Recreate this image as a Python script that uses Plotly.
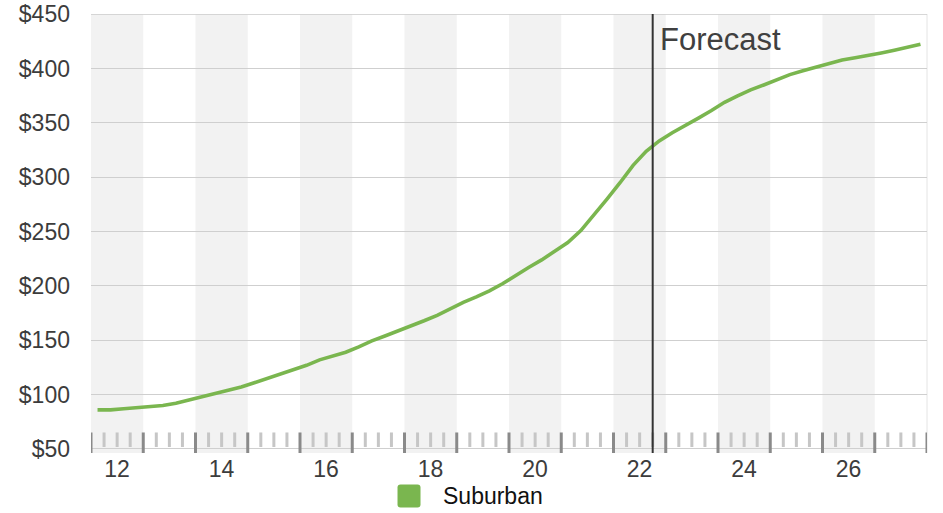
import plotly.graph_objects as go

# ---- data ----
years = list(range(12, 28))            # two-digit years shown on the axis
quarters = [1, 2, 3, 4]
series_name = "Suburban"
suburban = [
    86, 86, 87, 88,          # 12
    89, 90, 92, 95,          # 13
    97.5, 101, 104, 107,     # 14
    111, 115, 119, 122.5,    # 15
    127, 132, 135.5, 139,    # 16
    144, 149.5, 154, 158.5,  # 17
    163.5, 168, 173, 179,    # 18
    185, 190, 195.5, 202,    # 19
    210, 217, 224, 232,      # 20
    240, 251, 265, 280,      # 21
    295, 311, 324, 333.5,    # 22
    341, 347.5, 354.5, 361.5,# 23
    369, 375, 380.5, 385,    # 24
    390, 394.5, 398, 401.5,  # 25
    404.5, 408, 410, 412,    # 26
    414.5, 417, 419.5, 422.5 # 27
]
y_ticks = [50, 100, 150, 200, 250, 300, 350, 400, 450]
x_label_years = [12, 14, 16, 18, 20, 22, 24, 26]
forecast_start = 22.25
forecast_label = "Forecast"

# x position of each quarter (centre of the quarter within the year band)
x_vals = [yr - 0.5 + (q - 0.5) / 4 for yr in years for q in quarters]

GREEN = "#7ab64f"
TEXT = "#3c3c3c"
FONT = "Liberation Sans, Arial, Helvetica, sans-serif"

fig = go.Figure()
fig.add_trace(go.Scatter(
    x=x_vals, y=suburban, mode="lines", name=series_name,
    line=dict(color=GREEN, width=3.6), showlegend=False,
    hoverinfo="x+y",
))

shapes = []
# alternating year bands
for yr in years:
    if yr % 2 == 0:
        shapes.append(dict(type="rect", xref="x", yref="paper",
                           x0=yr - 0.5, x1=yr + 0.5, y0=0, y1=1,
                           fillcolor="#f2f2f2", line=dict(width=0), layer="below"))
# right edge line
shapes.append(dict(type="line", xref="paper", yref="paper", x0=1, x1=1, y0=0, y1=1,
                   line=dict(color="#e4e4e4", width=1), layer="below"))
# top gridline (edge of plot)
shapes.append(dict(type="line", xref="paper", yref="y", x0=0, x1=1,
                   y0=y_ticks[-1], y1=y_ticks[-1],
                   line=dict(color="#cfcfcf", width=1), layer="below"))
# major ticks at year boundaries
bounds = [years[0] - 0.5] + [yr + 0.5 for yr in years]
for b in bounds:
    shapes.append(dict(type="line", xref="x", yref="y", ysizemode="pixel",
                       yanchor=y_ticks[0], x0=b, x1=b, y0=-14, y1=16.5,
                       line=dict(color="#8a8a8a", width=3)))
# minor ticks at quarter boundaries
for yr in years:
    for q in (1, 2, 3):
        xm = yr - 0.5 + q / 4
        shapes.append(dict(type="line", xref="x", yref="y", ysizemode="pixel",
                           yanchor=y_ticks[0], x0=xm, x1=xm, y0=2, y1=16.5,
                           line=dict(color="#c6c6c6", width=3)))
# forecast divider
shapes.append(dict(type="line", xref="x", yref="y", ysizemode="pixel",
                   yanchor=y_ticks[0], x0=forecast_start, x1=forecast_start,
                   y0=-31, y1=435, line=dict(color="#333333", width=2)))
# legend swatch (rounded square)
shapes.append(dict(type="path", xref="paper", yref="paper",
                   xsizemode="pixel", ysizemode="pixel",
                   xanchor=0.3804, yanchor=-0.098,
                   path="M-8.5,-11.5 L8.5,-11.5 Q11.5,-11.5 11.5,-8.5 L11.5,8.5 "
                        "Q11.5,11.5 8.5,11.5 L-8.5,11.5 Q-11.5,11.5 -11.5,8.5 "
                        "L-11.5,-8.5 Q-11.5,-11.5 -8.5,-11.5 Z",
                   fillcolor=GREEN, line=dict(width=0)))

annotations = [
    dict(x=forecast_start, y=0.941, xref="x", yref="paper", text=forecast_label,
         showarrow=False, xanchor="left", yanchor="middle", xshift=5,
         font=dict(size=31, color="#404040", family=FONT)),
    dict(x=0.4187, y=-0.097, xref="paper", yref="paper", text=series_name,
         showarrow=False, xanchor="left", yanchor="middle",
         font=dict(size=23, color="#111111", family=FONT)),
]

fig.update_layout(
    width=943, height=513,
    margin=dict(l=91, r=16, t=14, b=60, autoexpand=False),
    paper_bgcolor="white", plot_bgcolor="white",
    font=dict(family=FONT, color=TEXT, size=22),
    shapes=shapes, annotations=annotations,
    showlegend=False,
    xaxis=dict(range=[years[0] - 0.5, years[-1] + 0.5], automargin=False,
               tickvals=x_label_years, ticktext=[str(v) for v in x_label_years],
               showgrid=False, zeroline=False, showline=False, ticks="",
               ticklabelstandoff=0, ticklabeloverflow="allow",
               tickfont=dict(size=23, color=TEXT, family=FONT), fixedrange=True),
    yaxis=dict(range=[46.3, 450.3], tickvals=y_ticks, automargin=False,
               ticktext=["$" + str(v) for v in y_ticks],
               showgrid=True, gridcolor="#cfcfcf", gridwidth=1,
               zeroline=False, showline=False, ticks="",
               ticklabelstandoff=20, ticklabeloverflow="allow",
               tickfont=dict(size=23, color=TEXT, family=FONT), fixedrange=True),
)

# remove the browser's default 8px body margin so the figure fills the window
fig.write_html("out.html", config={"displayModeBar": False},
               post_script="document.body.style.margin='0px';")
